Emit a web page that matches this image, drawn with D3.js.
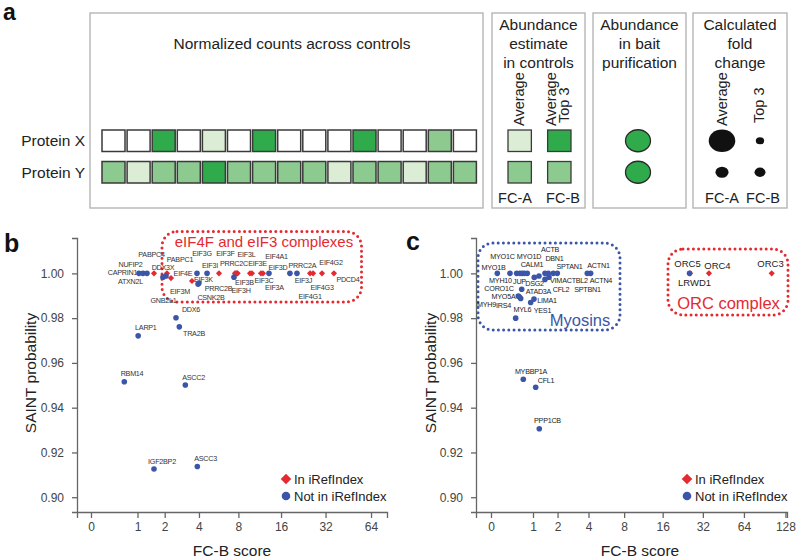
<!DOCTYPE html>
<html><head><meta charset="utf-8">
<script src="https://cdn.jsdelivr.net/npm/d3@7/dist/d3.min.js"></script>
<style>
html,body{margin:0;padding:0;background:#fff;}
svg{display:block;font-family:"Liberation Sans",Arial,Helvetica,sans-serif;}
</style></head><body>
<script>
// ---------------- DATA ----------------
// Panel a: heat levels 0=absent,1=low,2=mid,3=high
const proteins = ["Protein X", "Protein Y"];
const controlCountsX = [0,0,3,0,1,0,3,0,0,0,3,0,0,2,0];
const controlCountsY = [2,1,2,2,3,2,2,2,2,1,2,2,1,2,2];
const fcMethods = ["FC-A", "FC-B"];
const abundanceEstimateX = [1, 3];
const abundanceEstimateY = [2, 2];
const baitAbundance = [3, 3];
const foldChangeX = [10, 1];
const foldChangeY = [2.4, 1.7];

// Panel b
const bNames = ["CAPRIN1","NUFIP2","ATXN2L","PABPC4","DDX3X","GNB2L1","PABPC1","EIF4E","EIF3M","EIF3G","EIF3K","CSNK2B","EIF3I","EIF3F","PRRC2B","PRRC2C","EIF3B","EIF3L","EIF3H","EIF3E","EIF3C","EIF4A1","EIF3A","EIF3D","PRRC2A","EIF3J","EIF4G1","EIF4G3","EIF4G2","PDCD4","DDX6","TRA2B","LARP1","RBM14","ASCC2","IGF2BP2","ASCC3"];
const bFCB = [1.045,1.171,1.304,1.558,1.925,2.06,2.104,2.295,3.506,3.856,4.0,3.93,4.64,5.74,7.43,7.55,7.68,7.81,7.9,9.70,10.02,11.99,11.6,13.2,18.4,20.55,25.2,26.4,30.3,36.4,2.55,2.73,1.02,0.643,3.08,1.558,3.88];
const bSaint = [1.000,1.000,1.000,1.000,0.9983,0.9988,1.000,0.9979,0.9966,1.000,0.9957,0.9952,1.000,1.000,0.9983,1.000,1.000,1.000,1.000,1.000,1.000,1.000,1.000,1.000,1.000,1.000,1.000,1.000,1.000,1.000,0.9802,0.9761,0.9721,0.9516,0.9501,0.9126,0.9137];
const bInIRef = [0,0,0,1,0,0,1,1,1,0,0,0,0,1,0,1,1,1,1,1,1,1,1,0,0,0,1,1,1,1,0,0,0,0,0,0,0];

// Panel c
const cNames = ["MYO1B","MYO1C","MYH10","MYO1D","JUP","CALM1","DSG2","ATAD3A","ACTBL2","ACTB","DBN1","SPTAN1","SPTBN1","VIM","CFL2","ACTN1","ACTN4","CORO1C","MYO5A","IRS4","MYH9","LIMA1","YES1","MYL6","ORC5","LRWD1","ORC4","ORC3","MYBBP1A","CFL1","PPP1CB"];
const cFCB = [0.110,0.368,0.528,0.614,0.676,0.733,0.820,1.043,1.208,1.438,1.574,1.796,1.987,1.438,1.604,3.90,4.18,0.66,0.569,0.633,0.601,1.033,0.925,0.503,25.7,25.5,35.5,101.8,0.704,1.091,1.219];
const cSaint = [1.000,1.000,1.000,1.000,1.000,1.000,1.000,0.9982,0.9988,1.000,1.000,1.000,1.000,0.9973,0.9983,1.000,1.000,0.9929,0.9899,0.9888,0.9894,0.9885,0.9870,0.9800,1.000,1.000,1.000,1.000,0.9527,0.9491,0.9306];
const cInIRef = [0,0,0,0,0,0,0,0,0,0,0,0,0,0,0,0,0,0,0,0,0,0,0,0,1,0,1,1,0,0,0];

const xTicksB = [0,1,2,4,8,16,32,64];
const xTicksC = [0,1,2,4,8,16,32,64,128];
const yTicks = [0.90,0.92,0.94,0.96,0.98,1.00];
const legendLabels = ["In iRefIndex", "Not in iRefIndex"];

// ---------------- LAYOUT (label offsets in px, optional font size) ----------------
const labelOffB = {CAPRIN1:[-16.5,-1],NUFIP2:[-12.5,-9],ATXN2L:[-16.5,8],PABPC4:[-2.5,-19],DDX3X:[0,-10],GNB2L1:[-2.5,24],PABPC1:[13,-14],EIF4E:[12,-5],EIF3M:[-12,11],EIF3G:[5,-20],EIF3K:[4.5,-3],CSNK2B:[13,13],EIF3I:[3,-8],EIF3F:[6.5,-20],PRRC2B:[-15.5,11],PRRC2C:[-1,-10],EIF3B:[8.5,9],EIF3L:[9.5,-19],EIF3H:[3.5,17],EIF3E:[7.5,-10],EIF3C:[12,7],EIF4A1:[13.5,-17],EIF3A:[13.5,14],EIF3D:[9,-6],PRRC2A:[12.5,-8],EIF3J:[6.5,7],EIF4G1:[0,23],EIF4G3:[9,14],EIF4G2:[9,-11],PDCD4:[14,6],DDX6:[15,-7.7],TRA2B:[14.7,6.3],LARP1:[7.7,-8.7],RBM14:[7.7,-8.7],ASCC2:[8.2,-8],IGF2BP2:[8,-8],ASCC3:[8.2,-7.7]};
const labelOffC = {MYO1B:[-3.8,-6],MYO1C:[-7.5,-16.5],MYH10:[-16.2,7.2],MYO1D:[9,-17],JUP:[-2.8,7.8],CALM1:[7.7,-8.6],DSG2:[7.2,10.3],ATAD3A:[4.2,13.9],ACTBL2:[36,4],ACTB:[5,-23.7],DBN1:[6.2,-14.7],SPTAN1:[16.2,-6.7],SPTBN1:[30.2,16.3],VIM:[11,0.7],CFL2:[12,12],ACTN1:[11.2,-7.7],ACTN4:[10.3,7.3],CORO1C:[-22.7,-1.2],MYO5A:[-14.8,0.4],IRS4:[-17.2,6.9],MYH9:[-33,7],LIMA1:[13,1],YES1:[11.8,7.7],MYL6:[6.8,-8.3],ORC5:[-2.5,-9.7,9.5],LRWD1:[5,9.6,9.5],ORC4:[8.5,-7.7,9.5],ORC3:[-1.2,-10.3,9.5],MYBBP1A:[7.7,-7.3],CFL1:[10.3,-7.3],PPP1CB:[8.2,-8]};

const RED = "#e42a30", BLUE = "#3b56a8", TXT = "#222";

// ---------------- DRAW ----------------
const svg = d3.select("body").append("svg").attr("width",800).attr("height",559);
const heatColor = d3.scaleOrdinal().domain([0,1,2,3]).range(["#ffffff","#dcedd5","#8dca8f","#2fab4c"]);

[["a",3,20,23],["b",4,252,25],["c",406,250,25]].forEach(p=>{
  svg.append("text").attr("x",p[1]).attr("y",p[2]).attr("font-size",p[3]).attr("font-weight","bold").attr("fill","#111").text(p[0]);
});

// ---- Panel a ----
const boxes = [[90,13,483,208],[492,13,585,208],[593,13,686,208],[693,13,787,208]];
boxes.forEach(b=>svg.append("rect").attr("x",b[0]).attr("y",b[1]).attr("width",b[2]-b[0]).attr("height",b[3]-b[1])
  .attr("fill","none").attr("stroke","#b0b0b0").attr("stroke-width",1.3));

function multiline(lines, cx, y0, dy){
  lines.forEach((l,i)=>svg.append("text").attr("x",cx).attr("y",y0+i*dy).attr("text-anchor","middle")
    .attr("font-size",15.5).attr("fill",TXT).text(l));
}
svg.append("text").attr("x",292).attr("y",48.5).attr("text-anchor","middle").attr("font-size",15.5).attr("fill",TXT).text("Normalized counts across controls");
multiline(["Abundance","estimate","in controls"],538.5,29.5,19);
multiline(["Abundance","in bait","purification"],639.5,29.5,19);
multiline(["Calculated","fold","change"],740,29.5,19);

function vtext(t,x,y){
  svg.append("text").attr("transform",`translate(${x},${y}) rotate(-90)`).attr("font-size",14.5).attr("fill",TXT).text(t);
}
vtext("Average",524,126); vtext("Average",556,126); vtext("Top 3",569,123);
vtext("Average",727,126); vtext("Top 3",764,123);

const colX = d3.scaleBand().domain(d3.range(15)).range([102,476.4]).paddingInner(2.1/25.1);
const rowY = d3.scaleBand().domain(proteins).range([130,183]).paddingInner(10/31.5);
const rows = [controlCountsX, controlCountsY];
proteins.forEach((p,ri)=>{
  svg.append("text").attr("x",85).attr("y",rowY(p)+rowY.bandwidth()/2+5.5).attr("text-anchor","end")
    .attr("font-size",15.5).attr("fill",TXT).text(p);
  svg.selectAll(null).data(rows[ri]).enter().append("rect")
    .attr("x",(d,i)=>colX(i)).attr("y",rowY(p)).attr("width",colX.bandwidth()).attr("height",rowY.bandwidth())
    .attr("fill",d=>heatColor(d)).attr("stroke","#3a3a3a").attr("stroke-width",1.5);
});
const fcX = d3.scaleBand().domain(fcMethods).range([508,571]).paddingInner(16/39);
[abundanceEstimateX, abundanceEstimateY].forEach((arr,ri)=>{
  svg.selectAll(null).data(arr).enter().append("rect")
    .attr("x",(d,i)=>fcX(fcMethods[i])).attr("y",rowY(proteins[ri])).attr("width",fcX.bandwidth()).attr("height",rowY.bandwidth())
    .attr("fill",d=>heatColor(d)).attr("stroke","#3a3a3a").attr("stroke-width",1.3);
});
baitAbundance.forEach((d,ri)=>{
  svg.append("ellipse").attr("cx",638).attr("cy",rowY(proteins[ri])+rowY.bandwidth()/2).attr("rx",12.5).attr("ry",11)
    .attr("fill",heatColor(d)).attr("stroke","#2a2a2a").attr("stroke-width",1.3);
});
const fcR = d3.scaleSqrt().domain([0,10]).range([0,13.3]);
const fcCx = [722,760];
[foldChangeX, foldChangeY].forEach((arr,ri)=>{
  arr.forEach((d,i)=>{
    svg.append("ellipse").attr("cx",fcCx[i]).attr("cy",rowY(proteins[ri])+rowY.bandwidth()/2)
      .attr("rx",fcR(d)).attr("ry",fcR(d)*0.85).attr("fill","#111");
  });
});
[[515,"FC-A"],[563,"FC-B"],[722,"FC-A"],[763,"FC-B"]].forEach(t=>{
  svg.append("text").attr("x",t[0]).attr("y",203).attr("text-anchor","middle").attr("font-size",14.5).attr("fill",TXT).text(t[1]);
});

// ---- Scatter panels ----
const diamond = s => d3.symbol(d3.symbolSquare, s);
function scatter(o){
  const g = svg.append("g");
  const lx = d3.scaleLinear().domain(o.logDomain).range(o.xRange);
  const x = v => lx(Math.log2(v+1));
  const y = d3.scaleLinear().domain([0.8934,1.0158]).range([512,238]);

  o.groups.forEach(gr=>{
    g.append("rect").attr("x",gr.x0).attr("y",gr.y0).attr("width",gr.x1-gr.x0).attr("height",gr.y1-gr.y0)
      .attr("rx",15).attr("ry",15).attr("fill","none").attr("stroke",gr.color).attr("stroke-width",3)
      .attr("stroke-dasharray","0 5.2").attr("stroke-linecap","round");
    g.append("text").attr("x",gr.tx).attr("y",gr.ty).attr("text-anchor","middle").attr("font-size",gr.fs)
      .attr("fill",gr.color).text(gr.label);
  });

  const ax = g.append("g").attr("transform","translate(0,512)")
    .call(d3.axisBottom(lx).tickValues(o.xTicks.map(t=>Math.log2(t+1))).tickFormat((d,i)=>o.xTicks[i])
      .tickSizeOuter(0).tickSize(6).tickPadding(4));
  const ay = g.append("g").attr("transform",`translate(${o.xRange[0]},0)`)
    .call(d3.axisLeft(y).tickValues(yTicks).tickFormat(d3.format(".2f")).tickSizeOuter(0).tickSize(5).tickPadding(8));
  [ax,ay].forEach(a=>{
    a.select(".domain").attr("stroke","#666").attr("stroke-width",1.3);
    a.selectAll(".tick line").attr("stroke","#666").attr("stroke-width",1.3);
    a.selectAll(".tick text").attr("fill","#444").attr("font-size",12).attr("font-family","Liberation Sans, Arial, sans-serif");
  });
  g.append("text").attr("x",o.xTitleX).attr("y",556).attr("text-anchor","middle").attr("font-size",15.5).attr("fill",TXT).text("FC-B score");
  g.append("text").attr("transform",`translate(${o.yTitleX},373) rotate(-90)`).attr("text-anchor","middle")
    .attr("font-size",15.5).attr("fill",TXT).text("SAINT probability");

  const idx = d3.range(o.names.length);
  g.selectAll(null).data(idx).enter().append("text")
    .attr("x",i=>x(o.fcb[i])+o.off[o.names[i]][0]).attr("y",i=>y(o.saint[i])+o.off[o.names[i]][1])
    .attr("text-anchor","middle").attr("dominant-baseline","central")
    .attr("font-size",i=>o.off[o.names[i]][2]||7.2)
    .attr("letter-spacing",i=>o.off[o.names[i]][2]?"0px":"-0.25px").attr("fill",o.labelColor).text(i=>o.names[i]);
  g.selectAll(null).data(idx.filter(i=>o.iref[i])).enter().append("path")
    .attr("d",diamond(19)).attr("transform",i=>`translate(${x(o.fcb[i])},${y(o.saint[i])}) rotate(45)`).attr("fill",RED);
  g.selectAll(null).data(idx.filter(i=>!o.iref[i])).enter().append("circle")
    .attr("cx",i=>x(o.fcb[i])).attr("cy",i=>y(o.saint[i])).attr("r",2.8).attr("fill",BLUE);

  g.append("path").attr("d",diamond(56)).attr("transform",`translate(${o.legendX},479) rotate(45)`).attr("fill",RED);
  g.append("circle").attr("cx",o.legendX).attr("cy",496).attr("r",4.3).attr("fill",BLUE);
  legendLabels.forEach((l,i)=>g.append("text").attr("x",o.legendX+8).attr("y",479+17*i+4.7)
    .attr("font-size",13).attr("fill",TXT).text(l));
}

scatter({
  names:bNames, fcb:bFCB, saint:bSaint, iref:bInIRef, off:labelOffB, labelColor:"#333",
  logDomain:[-0.301,6.366], xRange:[77,387], xTicks:xTicksB, xTitleX:232, yTitleX:36, legendX:286,
  groups:[{x0:162,y0:231.5,x1:361.5,y1:302,color:RED,label:"eIF4F and eIF3 complexes",tx:264,ty:247,fs:15}]
});
scatter({
  names:cNames, fcb:cFCB, saint:cSaint, iref:cInIRef, off:labelOffC, labelColor:"#222",
  logDomain:[-0.357,7.048], xRange:[476,787], xTicks:xTicksC, xTitleX:640, yTitleX:436, legendX:687,
  groups:[{x0:478,y0:243,x1:620,y1:330,color:BLUE,label:"Myosins",tx:580,ty:326,fs:16.5},
          {x0:668,y0:249,x1:788,y1:315,color:RED,label:"ORC complex",tx:728.5,ty:309,fs:16.5}]
});
</script></body></html>
